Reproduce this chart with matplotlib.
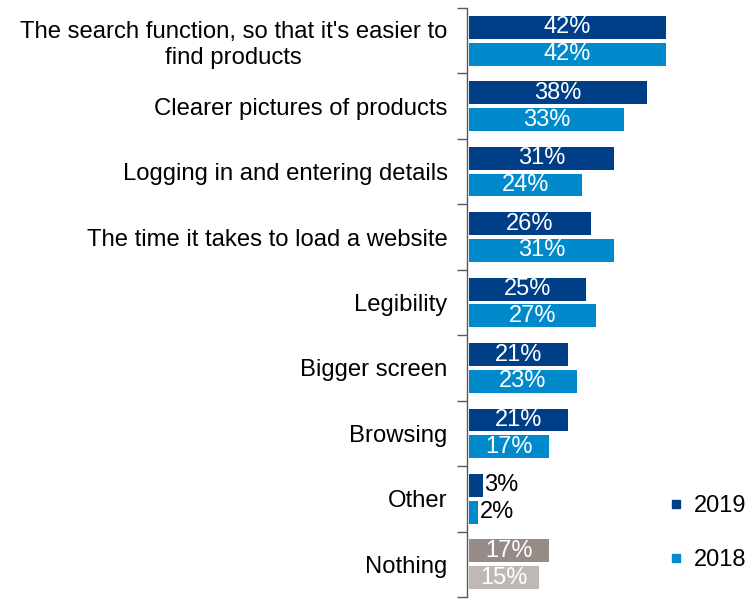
import matplotlib
matplotlib.use("Agg")
import matplotlib.pyplot as plt
from matplotlib.lines import Line2D
import numpy as np

plt.rcParams['font.family'] = ['Liberation Sans', 'DejaVu Sans']

categories = [
    "The search function, so that it's easier to\nfind products",
    "Clearer pictures of products",
    "Logging in and entering details",
    "The time it takes to load a website",
    "Legibility",
    "Bigger screen",
    "Browsing",
    "Other",
    "Nothing",
]
values_2019 = [42, 38, 31, 26, 25, 21, 21, 3, 17]
values_2018 = [42, 33, 24, 31, 27, 23, 17, 2, 15]
series_labels = ["2019", "2018"]

navy = "#003F87"
blue = "#0089CB"
nothing_2019 = "#968B87"
nothing_2018 = "#BFB8B5"

colors_2019 = [nothing_2019 if c == "Nothing" else navy for c in categories]
colors_2018 = [nothing_2018 if c == "Nothing" else blue for c in categories]

fig = plt.figure(figsize=(7.55, 6.0), dpi=100)
ax = fig.add_axes([467 / 755, 3 / 600, (755 - 467) / 755, (597 - 3) / 600 - 0.0083])

y = np.arange(len(categories))
h = 0.35
off = 0.205
b19 = ax.barh(y - off, values_2019, height=h, color=colors_2019, left=0)
b18 = ax.barh(y + off, values_2018, height=h, color=colors_2018, left=0)

fs = 17
for bars, vals in ((b19, values_2019), (b18, values_2018)):
    for bar, v in zip(bars, vals):
        cy = bar.get_y() + bar.get_height() / 2
        if v < 8:
            ax.text(v + 0.2, cy, f"{v}%", ha="left", va="center",
                    fontsize=fs, color="black")
        else:
            ax.text(v / 2, cy, f"{v}%", ha="center", va="center",
                    fontsize=fs, color="white")

ax.set_xlim(-0.45, 61)
ax.set_ylim(len(categories) - 0.5, -0.5)

for s in ("top", "right", "bottom"):
    ax.spines[s].set_visible(False)
ax.spines["left"].set_color("#595959")
ax.spines["left"].set_linewidth(1.0)
ax.set_xticks([])

ax.set_yticks(y)
ax.set_yticklabels(categories, fontsize=17.2, multialignment="center")
ax.tick_params(axis="y", which="major", length=0, pad=14)
ax.set_yticks(np.arange(len(categories) + 1) - 0.5, minor=True)
ax.tick_params(axis="y", which="minor", length=7, color="#595959", width=1.0)

handles = [
    Line2D([], [], marker="s", linestyle="none", color=navy, markersize=6),
    Line2D([], [], marker="s", linestyle="none", color=blue, markersize=6),
]
fig.legend(handles, series_labels, loc="center left",
           bbox_to_anchor=(657 / 755, 1 - 533 / 600), frameon=False,
           fontsize=17, labelspacing=1.35, handlelength=0.6,
           handletextpad=0.45, borderpad=0)

fig.savefig("out.png", dpi=100)
